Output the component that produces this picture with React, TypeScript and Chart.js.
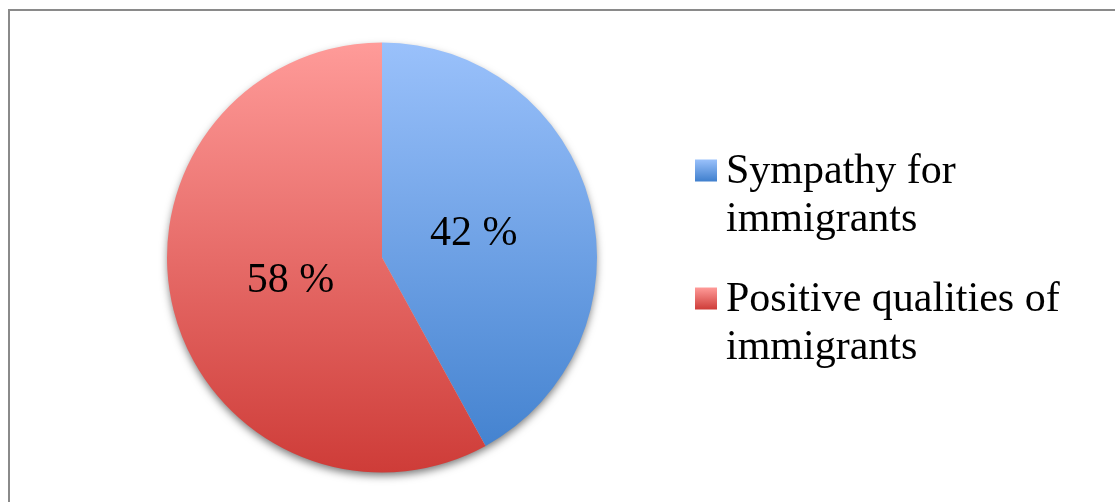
import React, { useEffect, useRef } from "react";
import { Chart, registerables } from "chart.js";

Chart.register(...registerables);

// Share of responses per theme (percent)
const categories = ["Sympathy for immigrants", "Positive qualities of immigrants"];
const shares = [42, 58];
// Vertical gradient stops for each slice: [top, bottom]
const gradientTops = ["#9AC1FB", "#FF9B99"];
const gradientBottoms = ["#3F7FCD", "#CE3C38"];

const FONT = "'Liberation Serif', 'Times New Roman', Times, serif";
const FONT_SIZE = 42;

function verticalGradient(ctx: CanvasRenderingContext2D, top: number, bottom: number, i: number) {
  const g = ctx.createLinearGradient(0, top, 0, bottom);
  g.addColorStop(0, gradientTops[i]);
  g.addColorStop(1, gradientBottoms[i]);
  return g;
}

function wrapText(ctx: CanvasRenderingContext2D, text: string, maxWidth: number): string[] {
  const words = text.split(" ");
  const lines: string[] = [];
  let line = "";
  for (const w of words) {
    const test = line ? line + " " + w : w;
    if (line && ctx.measureText(test).width > maxWidth) {
      lines.push(line);
      line = w;
    } else {
      line = test;
    }
  }
  if (line) lines.push(line);
  return lines;
}

// Outer frame around the chart
const framePlugin = {
  id: "frame",
  beforeDraw(chart: any) {
    const ctx = chart.ctx as CanvasRenderingContext2D;
    ctx.save();
    ctx.fillStyle = "#ffffff";
    ctx.fillRect(0, 0, chart.width, chart.height);
    ctx.strokeStyle = "#8a8a8a";
    ctx.lineWidth = 2;
    ctx.strokeRect(9, 10, chart.width + 50, chart.height + 50);
    ctx.restore();
  },
};

// Soft drop shadow under the pie
const shadowPlugin = {
  id: "pieShadow",
  beforeDatasetsDraw(chart: any) {
    const arc = chart.getDatasetMeta(0).data[0];
    if (!arc) return;
    const { x, y, outerRadius } = arc.getProps(["x", "y", "outerRadius"], true);
    const ctx = chart.ctx as CanvasRenderingContext2D;
    ctx.save();
    ctx.shadowColor = "rgba(0,0,0,0.55)";
    ctx.shadowBlur = 8;
    ctx.shadowOffsetY = 4;
    ctx.beginPath();
    ctx.arc(x, y, outerRadius - 1, 0, Math.PI * 2);
    ctx.fillStyle = "#c8c8c8";
    ctx.fill();
    ctx.restore();
  },
};

// Percentage labels inside the slices
const valueLabelPlugin = {
  id: "valueLabels",
  afterDatasetsDraw(chart: any) {
    const ctx = chart.ctx as CanvasRenderingContext2D;
    const meta = chart.getDatasetMeta(0);
    const values = chart.data.datasets[0].data as number[];
    ctx.save();
    ctx.font = `${FONT_SIZE}px ${FONT}`;
    ctx.fillStyle = "#000000";
    ctx.textAlign = "center";
    ctx.textBaseline = "middle";
    meta.data.forEach((arc: any, i: number) => {
      const { x, y, startAngle, endAngle, outerRadius } = arc.getProps(
        ["x", "y", "startAngle", "endAngle", "outerRadius"],
        true
      );
      const mid = (startAngle + endAngle) / 2;
      const r = outerRadius * 0.44;
      ctx.fillText(`${values[i]} %`, x + Math.cos(mid) * r, y + Math.sin(mid) * r);
    });
    ctx.restore();
  },
};

// Legend on the right with wrapped labels and gradient swatches
const sideLegendPlugin = {
  id: "sideLegend",
  afterDraw(chart: any) {
    const ctx = chart.ctx as CanvasRenderingContext2D;
    const area = chart.chartArea;
    const labels = chart.data.labels as string[];
    const lineHeight = 48;
    const itemGap = 32;
    const boxSize = 22;
    const boxX = area.right + 98;
    const textX = boxX + 31;
    ctx.save();
    ctx.font = `${FONT_SIZE}px ${FONT}`;
    const wrapped = labels.map((l) => wrapText(ctx, l, chart.width - textX - 20));
    const totalLines = wrapped.reduce((s, w) => s + w.length, 0);
    const total = totalLines * lineHeight + itemGap * (wrapped.length - 1);
    const cy = (area.top + area.bottom) / 2;
    let top = cy - total / 2;
    ctx.textAlign = "left";
    ctx.textBaseline = "alphabetic";
    wrapped.forEach((lines, i) => {
      const firstBaseline = top + 37.5;
      const boxBottom = firstBaseline - 1.5;
      ctx.fillStyle = verticalGradient(ctx, boxBottom - boxSize, boxBottom, i);
      ctx.fillRect(boxX, boxBottom - boxSize, boxSize, boxSize);
      ctx.fillStyle = "#000000";
      lines.forEach((line, j) => {
        ctx.fillText(line, textX, firstBaseline + j * lineHeight);
      });
      top += lines.length * lineHeight + itemGap;
    });
    ctx.restore();
  },
};

export default function App() {
  const canvasRef = useRef<HTMLCanvasElement | null>(null);

  useEffect(() => {
    if (!canvasRef.current) return;
    const chart = new Chart(canvasRef.current, {
      type: "pie",
      data: {
        labels: categories,
        datasets: [
          {
            data: shares,
            backgroundColor: (context: any) => {
              const { chart: c, dataIndex } = context;
              const area = c.chartArea;
              if (!area) return gradientTops[dataIndex];
              return verticalGradient(c.ctx, area.top, area.bottom, dataIndex);
            },
            borderWidth: 0,
          },
        ],
      },
      options: {
        responsive: false,
        maintainAspectRatio: false,
        animation: false,
        events: [],
        layout: {
          padding: { left: 167, right: 518, top: 42.5, bottom: 29.5 },
        },
        plugins: {
          legend: { display: false },
          tooltip: { enabled: false },
        },
      },
      plugins: [framePlugin, shadowPlugin, valueLabelPlugin, sideLegendPlugin],
    });
    return () => chart.destroy();
  }, []);

  return (
    <div style={{ position: "absolute", left: 0, top: 0, width: 1115, height: 502 }}>
      <canvas ref={canvasRef} width={1115} height={502} style={{ display: "block" }} />
    </div>
  );
}
